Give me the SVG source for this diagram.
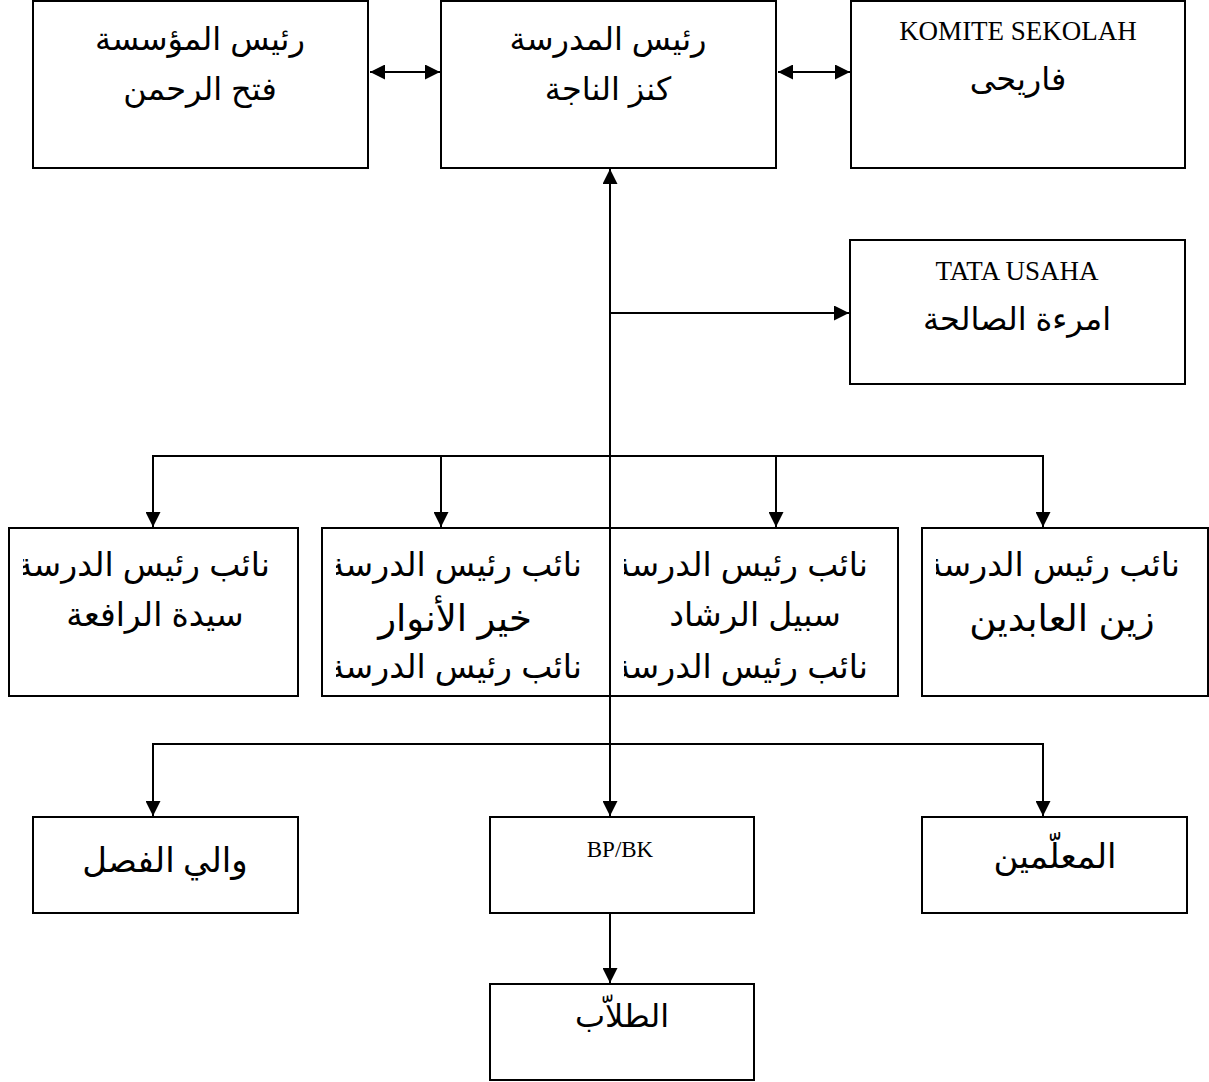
<svg xmlns="http://www.w3.org/2000/svg" width="1209" height="1082" viewBox="0 0 1209 1082">
<style>
.box{fill:#fff;stroke:#000;stroke-width:2}
.ln{fill:none;stroke:#000;stroke-width:2}
.ar{font-family:"Liberation Sans","DejaVu Sans",sans-serif;font-size:32px;fill:#000}
.ar2{font-family:"Liberation Sans","DejaVu Sans",sans-serif;font-size:33px;fill:#000}
.arb{font-family:"Liberation Sans","DejaVu Sans",sans-serif;font-size:37px;fill:#000}
.ars{font-family:"Liberation Serif","DejaVu Sans",serif;font-size:34px;fill:#000}
.lat{font-family:"Liberation Serif",serif;font-size:27px;fill:#000}
.lats{font-family:"Liberation Serif",serif;font-size:23px;fill:#000}
</style>
<defs>
<marker id="ah" viewBox="0 0 10 10" refX="10" refY="5" markerWidth="7.5" markerHeight="7.5" markerUnits="strokeWidth" orient="auto-start-reverse">
<path d="M0,0 L10,5 L0,10 z" fill="#000"/>
</marker>
<clipPath id="c1"><rect x="23" y="528" width="275" height="168"/></clipPath>
<clipPath id="c2"><rect x="336" y="528" width="274" height="168"/></clipPath>
<clipPath id="c3"><rect x="624" y="528" width="274" height="168"/></clipPath>
<clipPath id="c4"><rect x="936" y="528" width="271" height="168"/></clipPath>
</defs>

<g id="connectors">
<line class="ln" x1="370" y1="72" x2="440" y2="72" marker-start="url(#ah)" marker-end="url(#ah)"/>
<line class="ln" x1="778" y1="72" x2="850" y2="72" marker-start="url(#ah)" marker-end="url(#ah)"/>
<line class="ln" x1="610" y1="744" x2="610" y2="169" marker-end="url(#ah)"/>
<line class="ln" x1="610" y1="744" x2="610" y2="816" marker-end="url(#ah)"/>
<line class="ln" x1="610" y1="313" x2="849" y2="313" marker-end="url(#ah)"/>
<line class="ln" x1="153" y1="456" x2="1043" y2="456"/>
<line class="ln" x1="153" y1="455" x2="153" y2="527" marker-end="url(#ah)"/>
<line class="ln" x1="441" y1="456" x2="441" y2="527" marker-end="url(#ah)"/>
<line class="ln" x1="776" y1="456" x2="776" y2="527" marker-end="url(#ah)"/>
<line class="ln" x1="1043" y1="455" x2="1043" y2="527" marker-end="url(#ah)"/>
<line class="ln" x1="153" y1="744" x2="1043" y2="744"/>
<line class="ln" x1="153" y1="743" x2="153" y2="816" marker-end="url(#ah)"/>
<line class="ln" x1="1043" y1="743" x2="1043" y2="816" marker-end="url(#ah)"/>
<line class="ln" x1="610" y1="913" x2="610" y2="983" marker-end="url(#ah)"/>
</g>

<g id="node-muassasa">
<rect class="box" x="33" y="1" width="335" height="167"/>
<text class="ar" x="200" y="50" text-anchor="middle">رئيس المؤسسة</text>
<text class="ar" x="200" y="100" text-anchor="middle">فتح الرحمن</text>
</g>
<g id="node-madrasa">
<rect class="box" x="441" y="1" width="335" height="167"/>
<text class="ar" x="608" y="50" text-anchor="middle">رئيس المدرسة</text>
<text class="ar" x="608" y="100" text-anchor="middle">كنز الناجة</text>
</g>
<g id="node-komite">
<rect class="box" x="851" y="1" width="334" height="167"/>
<text class="lat" x="1018" y="40" text-anchor="middle">KOMITE SEKOLAH</text>
<text class="ar" x="1018" y="90" text-anchor="middle">فاريحى</text>
</g>
<g id="node-tata">
<rect class="box" x="850" y="240" width="335" height="144"/>
<text class="lat" x="1017" y="280" text-anchor="middle">TATA USAHA</text>
<text class="ar" x="1017" y="330" text-anchor="middle">امرءة الصالحة</text>
</g>

<g id="node-wakil1">
<rect class="box" x="9" y="528" width="289" height="168"/>
<text class="ar2" x="270" y="576" text-anchor="end" clip-path="url(#c1)">نائب رئيس الدرسة</text>
<text class="ar2" x="155" y="626" text-anchor="middle">سيدة الرافعة</text>
</g>
<g id="node-wakil2">
<rect class="box" x="322" y="528" width="288" height="168"/>
<text class="ar2" x="582" y="576" text-anchor="end" clip-path="url(#c2)">نائب رئيس الدرسة</text>
<text class="arb" x="455" y="631" text-anchor="middle">خير الأنوار</text>
<text class="ar2" x="582" y="678" text-anchor="end" clip-path="url(#c2)">نائب رئيس الدرسة</text>
</g>
<g id="node-wakil3">
<rect class="box" x="610" y="528" width="288" height="168"/>
<text class="ar2" x="868" y="576" text-anchor="end" clip-path="url(#c3)">نائب رئيس الدرسة</text>
<text class="ar2" x="755" y="626" text-anchor="middle">سبيل الرشاد</text>
<text class="ar2" x="868" y="678" text-anchor="end" clip-path="url(#c3)">نائب رئيس الدرسة</text>
</g>
<g id="node-wakil4">
<rect class="box" x="922" y="528" width="286" height="168"/>
<text class="ar2" x="1180" y="576" text-anchor="end" clip-path="url(#c4)">نائب رئيس الدرسة</text>
<text class="arb" x="1062" y="631" text-anchor="middle">زين العابدين</text>
</g>

<g id="node-wali">
<rect class="box" x="33" y="817" width="265" height="96"/>
<text class="ars" x="165" y="872" text-anchor="middle">والي الفصل</text>
</g>
<g id="node-bpbk">
<rect class="box" x="490" y="817" width="264" height="96"/>
<text class="lats" x="620" y="857" text-anchor="middle">BP/BK</text>
</g>
<g id="node-muallimin">
<rect class="box" x="922" y="817" width="265" height="96"/>
<text class="ars" x="1055" y="868" text-anchor="middle">المعلّمين</text>
</g>
<g id="node-tullab">
<rect class="box" x="490" y="984" width="264" height="96"/>
<text class="ar" x="622" y="1027" text-anchor="middle">الطلاّب</text>
</g>
</svg>
